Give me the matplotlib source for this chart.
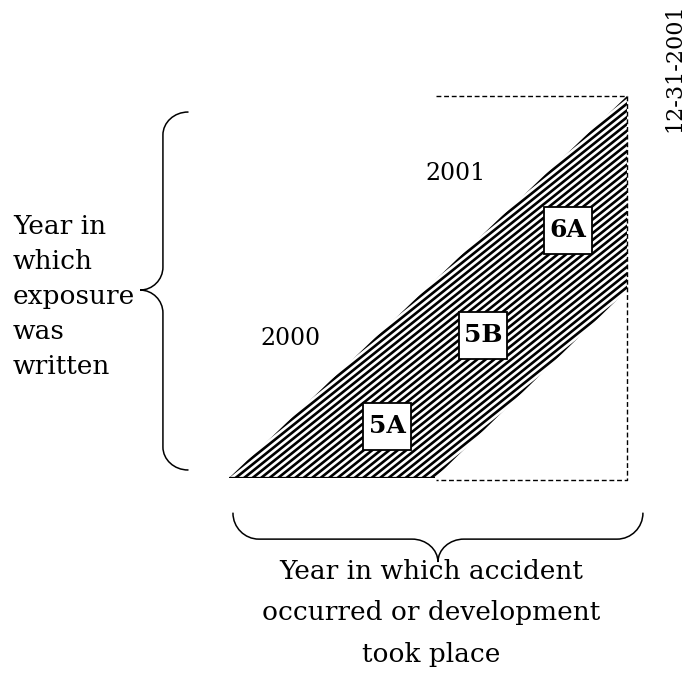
import numpy as np
import matplotlib
matplotlib.use("Agg")
import matplotlib.pyplot as plt
from matplotlib.path import Path
from matplotlib.patches import PathPatch, Polygon, Rectangle
from matplotlib.collections import LineCollection

plt.rcParams['font.family'] = ['DejaVu Serif']

# diagram units: x = accident / development time, y = time exposure was written
band_x = [0.0, 1.035, 2.0, 2.0]
band_y = [0.0, 0.0, 0.492, 1.0]

frame_x = [1.04, 2.0, 2.0, 1.04]
frame_y = [1.0, 1.0, -0.006, -0.006]

cell_labels = ['5A', '5B', '6A']
cell_x = [0.794, 1.276, 1.704]
cell_y = [0.136, 0.374, 0.649]

year_labels = ['2000', '2001']
year_x = [0.307, 1.141]
year_y = [0.364, 0.798]

date_label = '12-31-2001'
left_text = 'Year in\nwhich\nexposure\nwas\nwritten'
bottom_text = 'Year in which accident\noccurred or development\ntook place'


def brace(ax, a0, a1, atip, b_end, b_line, b_tip, ra, vertical):
    k = 0.55

    def quarter(p, q, corner):
        c1 = (p[0] + k * (corner[0] - p[0]), p[1] + k * (corner[1] - p[1]))
        c2 = (q[0] + k * (corner[0] - q[0]), q[1] + k * (corner[1] - q[1]))
        return [c1, c2, q]

    pts = [(a0, b_end)]
    codes = [Path.MOVETO]
    pts += quarter((a0, b_end), (a0 + ra, b_line), (a0, b_line)); codes += [Path.CURVE4] * 3
    pts.append((atip - ra, b_line)); codes.append(Path.LINETO)
    pts += quarter((atip - ra, b_line), (atip, b_tip), (atip, b_line)); codes += [Path.CURVE4] * 3
    pts += quarter((atip, b_tip), (atip + ra, b_line), (atip, b_line)); codes += [Path.CURVE4] * 3
    pts.append((a1 - ra, b_line)); codes.append(Path.LINETO)
    pts += quarter((a1 - ra, b_line), (a1, b_end), (a1, b_line)); codes += [Path.CURVE4] * 3
    pts = np.array(pts)
    if vertical:
        pts = pts[:, ::-1]
    ax.add_patch(PathPatch(Path(pts, codes), fill=False, lw=1.1, color='black',
                           clip_on=False, capstyle='round'))


W, H = 687, 681
fig = plt.figure(figsize=(W / 100, H / 100), dpi=100)
# place axes so that x 0..2 spans px 229..627 and y 0..1 spans px 478..96
ax = fig.add_axes([229 / W, (H - 478) / H, (627 - 229) / W, (478 - 96) / H])
ax.set_xlim(0, 2)
ax.set_ylim(0, 1)
ax.axis('off')

band = Polygon(np.column_stack([band_x, band_y]), closed=True,
               facecolor='white', edgecolor='none')
ax.add_patch(band)

# diagonal stripes (about 39 degrees on screen), clipped to the band
px_x, px_y = 398 / 2, 382 / 1
slope = 0.8 * px_x / px_y
step = 8.5 / px_x
offsets = np.arange(-3, 3, step)
xs = np.array([-0.2, 2.2])
segs = [np.column_stack([xs, slope * (xs - o)]) for o in offsets]
stripes = LineCollection(segs, colors='black', linewidths=1.9, capstyle='butt')
ax.add_collection(stripes)
stripes.set_clip_path(band)

ax.plot(band_x[:2], band_y[:2], color='black', lw=1.6, solid_capstyle='butt')

ax.plot(frame_x, frame_y, color='black', lw=1.0, ls=(0, (3.5, 2)), clip_on=False)

bw, bh = 48 / px_x, 47 / px_y
for lab, x, y in zip(cell_labels, cell_x, cell_y):
    ax.add_patch(Rectangle((x - bw / 2, y - bh / 2), bw, bh, facecolor='white',
                           edgecolor='black', lw=1.3, zorder=3))
    ax.text(x, y, lab, ha='center', va='center', fontsize=18, fontweight='bold', zorder=4)

for lab, x, y in zip(year_labels, year_x, year_y):
    ax.text(x, y, lab, ha='center', va='center', fontsize=17)

ax.text(2.24, 1.075, date_label, rotation=90, ha='center', va='center',
        fontsize=16, clip_on=False)

ax.text(-1.085, 0.474, left_text, ha='left', va='center', fontsize=19,
        linespacing=1.5, clip_on=False)
ax.text(1.015, -0.353, bottom_text, ha='center', va='center', fontsize=19,
        linespacing=1.82, multialignment='center', clip_on=False)

brace(ax, 0.021, 0.958, 0.492, -0.206, -0.332, -0.447, 0.06, vertical=True)
brace(ax, 0.020, 2.080, 1.050, -0.092, -0.160, -0.220, 0.13, vertical=False)

fig.savefig('out.png', dpi=100)
